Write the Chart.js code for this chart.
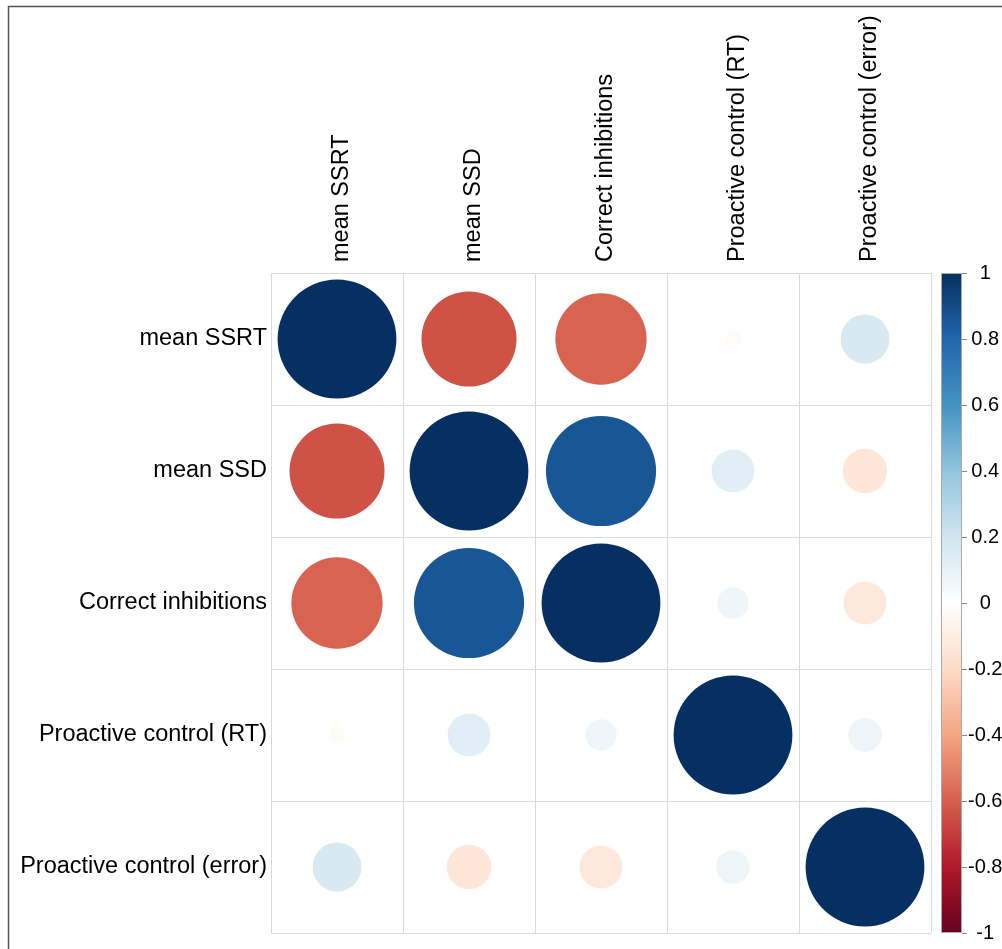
<!DOCTYPE html>
<html>
<head>
<meta charset="utf-8">
<script src="https://cdn.jsdelivr.net/npm/chart.js@4.4.1/dist/chart.umd.min.js"></script>
<style>
  html, body { margin: 0; padding: 0; background: #fff; }
  canvas { display: block; }
</style>
</head>
<body>
<canvas id="corr" width="1002" height="949"></canvas>
<script>
// --- data ---
const variables = ['mean SSRT', 'mean SSD', 'Correct inhibitions', 'Proactive control (RT)', 'Proactive control (error)'];
const rowSSRT = [1, -0.64, -0.59, -0.02, 0.17];
const rowSSD = [-0.64, 1, 0.86, 0.13, -0.14];
const rowInhib = [-0.59, 0.86, 1, 0.07, -0.13];
const rowProRT = [-0.02, 0.13, 0.07, 1, 0.08];
const rowProErr = [0.17, -0.14, -0.13, 0.08, 1];
const corrRows = [rowSSRT, rowSSD, rowInhib, rowProRT, rowProErr];
const cbTicks = [-1, -0.8, -0.6, -0.4, -0.2, 0, 0.2, 0.4, 0.6, 0.8, 1];
const palette = ['#67001F', '#B2182B', '#D6604D', '#F4A582', '#FDDBC7', '#FFFFFF', '#D1E5F0', '#92C5DE', '#4393C3', '#2166AC', '#053061'];

const FONT = 'Liberation Sans, Arial, sans-serif';

const hexToRgb = h => [1, 3, 5].map(i => parseInt(h.slice(i, i + 2), 16));
const colorFor = v => {
    const t = (v + 1) / 2 * (palette.length - 1);
    const i = Math.min(Math.floor(t), palette.length - 2);
    const f = t - i;
    const a = hexToRgb(palette[i]), b = hexToRgb(palette[i + 1]);
    const c = a.map((x, k) => Math.round(x + (b[k] - x) * f));
    return `rgb(${c[0]},${c[1]},${c[2]})`;
};

const points = [];
corrRows.forEach((row, r) => row.forEach((v, c) => points.push({ x: variables[c], y: variables[r], v })));

// no extra layout padding from tick labels
const noPad = s => { s.paddingTop = 0; s.paddingBottom = 0; s.paddingLeft = 0; s.paddingRight = 0; };

// circle area follows |r| (corrplot style)
const circleRadius = c => {
    if (!c.raw) return 3;
    const xs = c.chart.scales.x;
    const cell = Math.abs(xs.getPixelForValue(1) - xs.getPixelForValue(0));
    return 0.45 * cell * Math.sqrt(Math.abs(c.raw.v));
};

// frame + colour bar
const extras = {
    id: 'extras',
    beforeDraw(chart) {
        const ctx = chart.ctx;
        ctx.save();
        ctx.strokeStyle = '#555';
        ctx.lineWidth = 1.5;
        ctx.strokeRect(8.5, 6.5, 2000, 2000);
        ctx.restore();
    },
    afterDraw(chart) {
        const cb = chart.scales.cb;
        const ctx = chart.ctx;
        const top = cb.getPixelForValue(1), bottom = cb.getPixelForValue(-1);
        const x0 = cb.left + 10, x1 = cb.left + 31;
        const g = ctx.createLinearGradient(0, bottom, 0, top);
        palette.forEach((col, i) => g.addColorStop(i / (palette.length - 1), col));
        ctx.save();
        ctx.fillStyle = g;
        ctx.fillRect(x0, top, x1 - x0, bottom - top);
        ctx.strokeStyle = '#aaa';
        ctx.lineWidth = 1;
        ctx.strokeRect(x0 + 0.5, top + 0.5, x1 - x0 - 1, bottom - top - 1);
        ctx.strokeStyle = '#888';
        cbTicks.forEach(t => {
            const y = Math.round(cb.getPixelForValue(t)) + 0.5;
            ctx.beginPath();
            ctx.moveTo(x1, y);
            ctx.lineTo(x1 + 5, y);
            ctx.stroke();
        });
        ctx.restore();
    }
};

new Chart(document.getElementById('corr'), {
    type: 'scatter',
    data: {
        datasets: [{
            data: points,
            showLine: false,
            pointBorderWidth: 0,
            pointBackgroundColor: c => (c.raw ? colorFor(c.raw.v) : '#888'),
            pointRadius: circleRadius,
            pointHoverRadius: circleRadius
        }]
    },
    options: {
        responsive: false,
        animation: false,
        events: [],
        layout: { padding: { top: 0, left: 0, right: 0, bottom: 16 } },
        plugins: { legend: { display: false }, tooltip: { enabled: false } },
        scales: {
            x: {
                type: 'category',
                labels: variables,
                position: 'top',
                offset: true,
                grid: { offset: true, color: '#dadada', drawTicks: false },
                border: { display: false },
                ticks: {
                    autoSkip: false, minRotation: 90, maxRotation: 90, padding: 11, labelOffset: 33,
                    color: '#000', font: { family: FONT, size: 23.5 }
                },
                afterFit: s => { s.height = 273; noPad(s); }
            },
            y: {
                type: 'category',
                labels: variables,
                offset: true,
                grid: { offset: true, color: '#dadada', drawTicks: false },
                border: { display: false },
                ticks: { autoSkip: false, padding: 4, color: '#000', font: { family: FONT, size: 23.5 } },
                afterFit: s => { s.width = 271; noPad(s); }
            },
            cb: {
                type: 'linear',
                position: 'right',
                min: -1,
                max: 1,
                afterBuildTicks: s => { s.ticks = cbTicks.map(v => ({ value: v })); },
                grid: { display: false, drawTicks: false },
                border: { display: false },
                ticks: {
                    crossAlign: 'center', padding: 37, color: '#000',
                    font: { family: FONT, size: 20 },
                    callback: v => String(v)
                },
                afterFit: s => { s.width = 71; noPad(s); }
            }
        }
    },
    plugins: [extras]
});
</script>
</body>
</html>
